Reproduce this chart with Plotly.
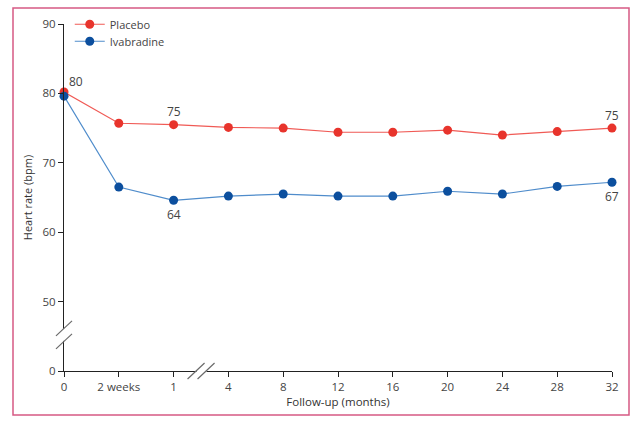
import plotly.graph_objects as go

# ---- data ----
x_labels = ["0", "2 weeks", "1", "4", "8", "12", "16", "20", "24", "28", "32"]
placebo = [80.2, 75.7, 75.5, 75.1, 75.0, 74.4, 74.4, 74.7, 74.0, 74.5, 75.0]
ivabradine = [79.6, 66.5, 64.6, 65.2, 65.5, 65.2, 65.2, 65.9, 65.5, 66.6, 67.2]
y_tickvals = [40, 50, 60, 70, 80, 90]
y_ticktext = ["0", "50", "60", "70", "80", "90"]

# value labels (index, text, series)
placebo_labels = [(0, "80"), (2, "75"), (10, "75")]
ivabradine_labels = [(2, "64"), (10, "67")]

x_idx = list(range(len(x_labels)))
Y_RANGE = [40, 90]
X_RANGE = [0, 10]
Y_BREAK = 45.2   # value position of the y-axis break
X_BREAK = 2.51   # index position of the x-axis break

FONT = "Open Sans"
GRAY = "#444444"
FS = 11.5

fig = go.Figure()
fig.add_trace(go.Scatter(
    x=x_idx, y=placebo, name="Placebo", mode="lines+markers",
    line=dict(color="#f05a55", width=1.2),
    marker=dict(color="#e8342c", size=9),
    cliponaxis=False, legend="legend",
))
fig.add_trace(go.Scatter(
    x=x_idx, y=ivabradine, name="Ivabradine", mode="lines+markers",
    line=dict(color="#4f8ccb", width=1.2),
    marker=dict(color="#0c4f9e", size=9),
    cliponaxis=False, legend="legend2",
))

annotations = []
for i, t in placebo_labels:
    xs, ys = (12, 11) if i == 0 else (0, 13)
    annotations.append(dict(x=i, y=placebo[i], text=t, showarrow=False,
                            xshift=xs, yshift=ys,
                            font=dict(family=FONT, size=12, color=GRAY)))
for i, t in ivabradine_labels:
    annotations.append(dict(x=i, y=ivabradine[i], text=t, showarrow=False,
                            yshift=-14,
                            font=dict(family=FONT, size=12, color=GRAY)))

yb = (Y_BREAK - Y_RANGE[0]) / (Y_RANGE[1] - Y_RANGE[0])
xb = (X_BREAK - X_RANGE[0]) / (X_RANGE[1] - X_RANGE[0])
SL = dict(color="#6a6a6a", width=1.2)


def brk(xa, ya, x0, x1, y0, y1, line):
    return dict(type="line", xref="x domain", yref="y domain",
                xsizemode="pixel", ysizemode="pixel",
                xanchor=xa, yanchor=ya, x0=x0, x1=x1, y0=y0, y1=y1, line=line)


shapes = [
    # y-axis break
    brk(0, yb, 0, 0, -6, 6, dict(color="white", width=3)),
    brk(0, yb, -8, 8, -1, 14, SL),
    brk(0, yb, -8, 8, -14, 1, SL),
    # x-axis break
    brk(xb, 0, -5, 5, 0, 0, dict(color="white", width=3)),
    brk(xb, 0, -14, 3, -8, 8, SL),
    brk(xb, 0, -4, 13, -8, 8, SL),
    # outer border
    dict(type="rect", xref="paper", yref="paper",
         x0=-51/548, x1=(629-64)/548, y0=-(415-371)/347, y1=(371-8)/347,
         line=dict(color="#d65a84", width=1.5), fillcolor="rgba(0,0,0,0)",
         layer="below"),
]

leg_common = dict(xanchor="left", yanchor="top", bgcolor="rgba(0,0,0,0)",
                  font=dict(family=FONT, size=11, color=GRAY), itemwidth=30)

fig.update_layout(
    width=640, height=421,
    margin=dict(l=64, r=28, t=24, b=50, autoexpand=False),
    paper_bgcolor="white", plot_bgcolor="white",
    font=dict(family=FONT, size=FS, color=GRAY),
    showlegend=True,
    legend=dict(x=0.0105, y=1.041, **leg_common),
    legend2=dict(x=0.0105, y=1.041 - 17/347, **leg_common),
    annotations=annotations,
    shapes=shapes,
    xaxis=dict(
        range=X_RANGE, tickmode="array", tickvals=x_idx, ticktext=x_labels,
        showline=True, linecolor="#222222", linewidth=1,
        ticks="outside", ticklen=5, tickcolor="#222222",
        showgrid=False, zeroline=False, automargin=False,
        tickfont=dict(family=FONT, size=FS, color=GRAY),
        title=dict(text="Follow-up (months)", standoff=2,
                   font=dict(family=FONT, size=FS, color="#333333")),
    ),
    yaxis=dict(
        range=Y_RANGE, tickmode="array", tickvals=y_tickvals, ticktext=y_ticktext,
        showline=True, linecolor="#222222", linewidth=1,
        ticks="outside", ticklen=5, tickcolor="#222222",
        showgrid=False, zeroline=False, automargin=False,
        tickfont=dict(family=FONT, size=FS, color=GRAY),
        title=dict(text="Heart rate (bpm)", standoff=7,
                   font=dict(family=FONT, size=11, color="#333333")),
    ),
)

fig.write_html("out.html", config={"displayModeBar": False},
               post_script="document.body.style.margin='0';")
